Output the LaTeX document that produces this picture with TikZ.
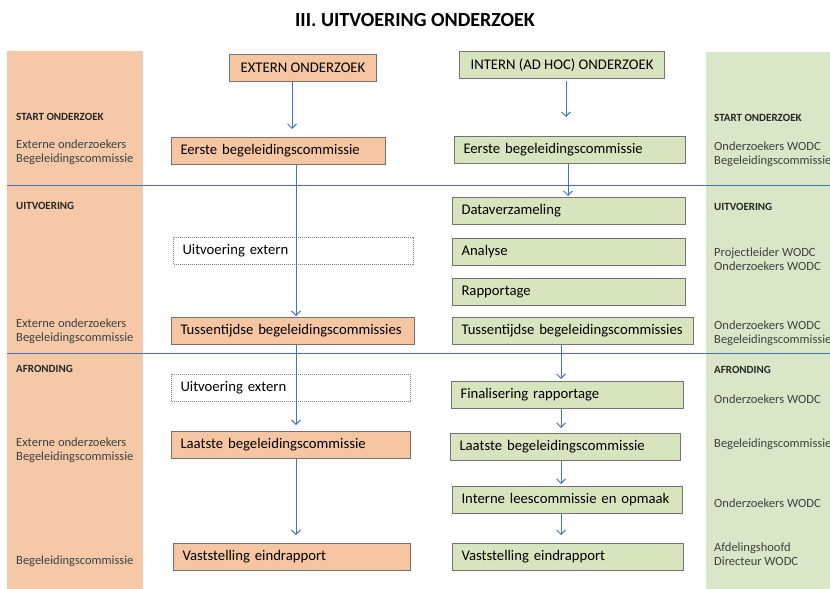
\documentclass[tikz,border=0pt]{standalone}
\usepackage{fontspec}
\setmainfont{Carlito}
\usetikzlibrary{arrows.meta}
\definecolor{bandorange}{RGB}{245,201,167}
\definecolor{boxorange}{RGB}{246,198,163}
\definecolor{bandgreen}{RGB}{218,230,200}
\definecolor{boxgreen}{RGB}{216,228,190}
\definecolor{flowblue}{RGB}{68,114,196}
\definecolor{boxline}{RGB}{115,115,115}
\definecolor{whotext}{RGB}{64,64,64}
\tikzstyle{obox}=[draw=boxline,fill=boxorange,line width=1pt,anchor=north west,minimum height=27pt,inner xsep=9pt,align=left,font=\fontsize{14.7}{16}\selectfont]
\tikzstyle{gbox}=[obox,fill=boxgreen]
\tikzstyle{xbox}=[obox,fill=white,draw=gray,densely dotted]
\tikzstyle{phase}=[anchor=west,inner sep=0pt,font=\fontsize{11}{13.5}\selectfont\bfseries,text=black!85]
\tikzstyle{who}=[anchor=west,inner sep=0pt,align=left,font=\fontsize{12.5}{13.8}\selectfont,text=whotext]
\tikzstyle{flow}=[draw=flowblue,line width=0.9pt,-{Straight Barb[length=4.5pt,width=9pt]}]
\tikzstyle{divider}=[draw=flowblue,line width=0.9pt]
\newcommand{\tikzpicunit}{1pt}

\begin{document}
\begin{tikzpicture}[x=\tikzpicunit,y=-\tikzpicunit]
    \useasboundingbox (0,0) rectangle (830,589);
    \fill[bandorange] (7,51) rectangle (143,589);
    \fill[bandgreen] (706,52) rectangle (830,589);
    \node[font=\fontsize{20}{24}\selectfont\bfseries] (title) at (415,20) {III. UITVOERING ONDERZOEK};
    % extern
    \node[obox,minimum width=147pt,inner xsep=2pt] (ext) at (229,54) {EXTERN ONDERZOEK};
    \node[obox,text width=196pt] (le1) at (171,137) {Eerste begeleidingscommissie};
    \node[xbox,text width=222pt] (lu1) at (173,237) {Uitvoering extern};
    \node[obox,text width=225pt] (lt) at (171,317) {Tussentijdse begeleidingscommissies};
    \node[xbox,text width=221pt] (lu2) at (171,374) {Uitvoering extern};
    \node[obox,text width=221pt] (ll) at (171,431) {Laatste begeleidingscommissie};
    \node[obox,text width=219pt] (lv) at (173,543) {Vaststelling eindrapport};
    % intern
    \node[gbox,minimum width=205pt,inner xsep=2pt] (int) at (459,51) {INTERN (AD HOC) ONDERZOEK};
    \node[gbox,text width=213pt] (re1) at (454,136) {Eerste begeleidingscommissie};
    \node[gbox,text width=215pt] (rd) at (452,197) {Dataverzameling};
    \node[gbox,text width=215pt] (ra) at (452,238) {Analyse};
    \node[gbox,text width=215pt] (rr) at (452,278) {Rapportage};
    \node[gbox,text width=223pt] (rt) at (452,317) {Tussentijdse begeleidingscommissies};
    \node[gbox,text width=214pt] (rf) at (451,381) {Finalisering rapportage};
    \node[gbox,text width=212pt] (rl) at (450,433) {Laatste begeleidingscommissie};
    \node[gbox,text width=212pt] (ri) at (452,486) {Interne leescommissie en opmaak};
    \node[gbox,text width=213pt] (rv) at (452,543) {Vaststelling eindrapport};
    % phase lines
    \draw[divider] (7,185) -- (830,185);
    \draw[divider] (7,353) -- (830,353);
    % arrows
    \coordinate (lxa) at (292,0);
    \coordinate (lxb) at (296,0);
    \coordinate (rxa) at (566,0);
    \coordinate (rxb) at (568,0);
    \coordinate (rxc) at (561,0);
    \draw[flow,shorten >=8pt] (ext.south -| lxa) -- (le1.north -| lxa);
    \draw[flow,shorten >=1pt] (le1.south -| lxb) -- (lt.north -| lxb);
    \draw[flow,shorten >=6pt] (lt.south -| lxb) -- (ll.north -| lxb);
    \draw[flow,shorten >=8pt] (ll.south -| lxb) -- (lv.north -| lxb);
    \draw[flow,shorten <=2pt,shorten >=19pt] (int.south -| rxa) -- (re1.north -| rxa);
    \draw[flow,shorten >=1pt] (re1.south -| rxb) -- (rd.north -| rxb);
    \draw[flow,shorten >=2pt] (rt.south -| rxc) -- (rf.north -| rxc);
    \draw[flow,shorten >=5pt] (rf.south -| rxc) -- (rl.north -| rxc);
    \draw[flow,shorten >=2pt] (rl.south -| rxc) -- (ri.north -| rxc);
    \draw[flow,shorten >=8pt] (ri.south -| rxc) -- (rv.north -| rxc);
    % left band
    \node[phase] (lp1) at (16,117) {START ONDERZOEK};
    \node[who] (lw1) at (16,152.5) {Externe onderzoekers\\Begeleidingscommissie};
    \node[phase] (lp2) at (16,206) {UITVOERING};
    \node[who] (lw2) at (16,331) {Externe onderzoekers\\Begeleidingscommissie};
    \node[phase] (lp3) at (16,369) {AFRONDING};
    \node[who] (lw3) at (16,450) {Externe onderzoekers\\Begeleidingscommissie};
    \node[who] (lw4) at (16,561) {Begeleidingscommissie};
    % right band
    \node[phase] (rp1) at (714,118) {START ONDERZOEK};
    \node[who] (rw1) at (714,154.5) {Onderzoekers WODC\\Begeleidingscommissie};
    \node[phase] (rp2) at (714,207) {UITVOERING};
    \node[who] (rw2) at (714,259) {Projectleider WODC\\Onderzoekers WODC};
    \node[who] (rw3) at (714,333) {Onderzoekers WODC\\Begeleidingscommissie};
    \node[phase] (rp3) at (714,370) {AFRONDING};
    \node[who] (rw4) at (714,399) {Onderzoekers WODC};
    \node[who] (rw5) at (714,444) {Begeleidingscommissie};
    \node[who] (rw6) at (714,503) {Onderzoekers WODC};
    \node[who] (rw7) at (714,554.5) {Afdelingshoofd\\Directeur WODC};
\end{tikzpicture}
\end{document}
